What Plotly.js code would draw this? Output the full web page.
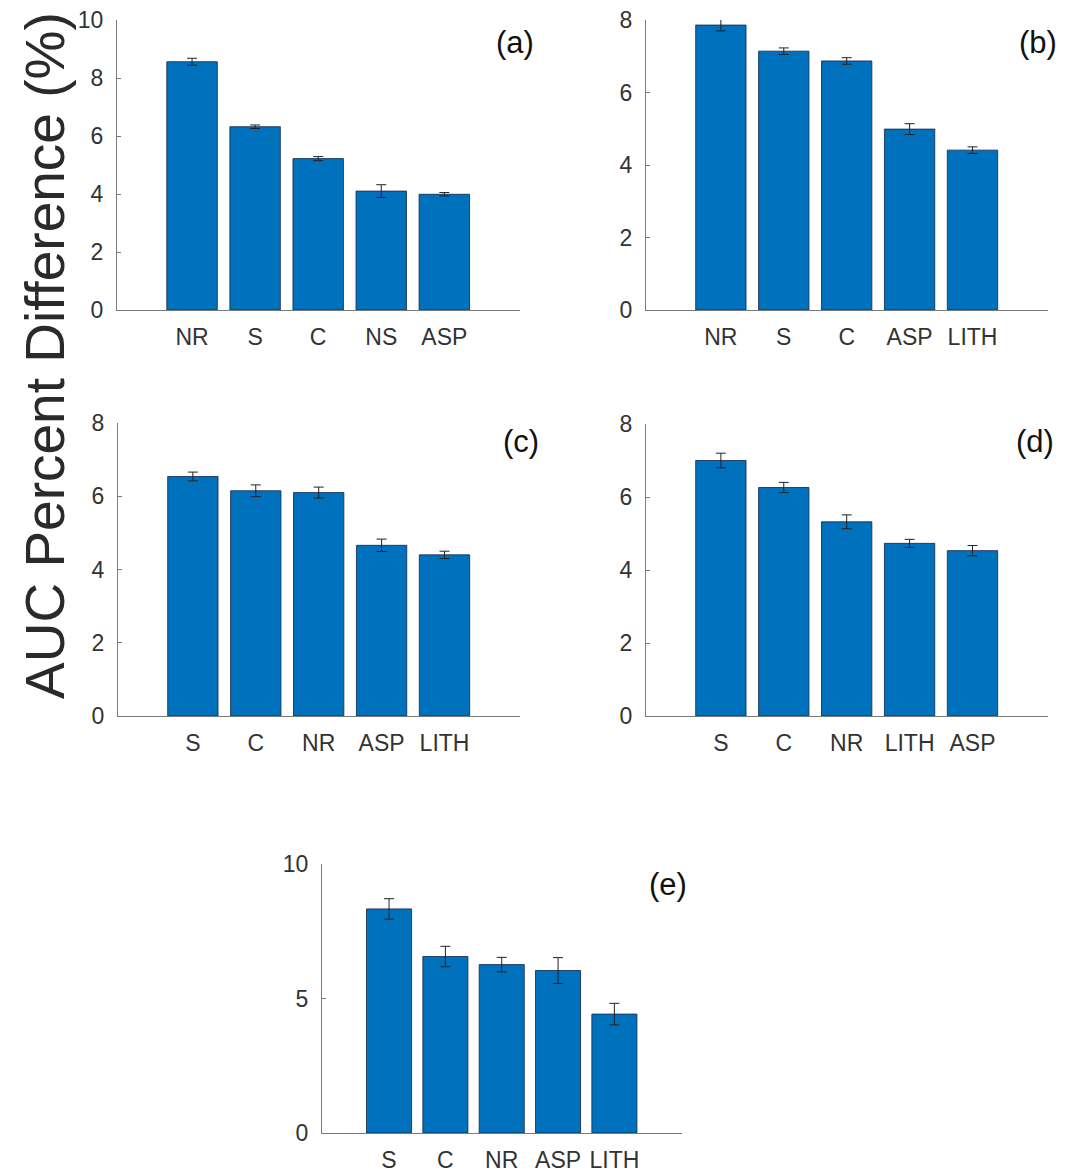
<!DOCTYPE html>
<html>
<head>
<meta charset="utf-8">
<script src="https://cdn.plot.ly/plotly-3.0.1.min.js"></script>
<style>html,body{margin:0;padding:0;background:#fff;}#chart{width:1067px;height:1174px;}</style>
</head>
<body>
<div id="chart"></div>
<script>
// ---- data ----
const catsA = ["NR", "S", "C", "NS", "ASP"];
const valsA = [8.56, 6.32, 5.22, 4.10, 3.99];
const errsA = [0.12, 0.06, 0.07, 0.22, 0.06];

const catsB = ["NR", "S", "C", "ASP", "LITH"];
const valsB = [7.86, 7.14, 6.87, 4.99, 4.41];
const errsB = [0.16, 0.09, 0.09, 0.15, 0.09];

const catsC = ["S", "C", "NR", "ASP", "LITH"];
const valsC = [6.54, 6.15, 6.10, 4.66, 4.40];
const errsC = [0.12, 0.16, 0.15, 0.17, 0.10];

const catsD = ["S", "C", "NR", "LITH", "ASP"];
const valsD = [7.00, 6.26, 5.32, 4.73, 4.53];
const errsD = [0.20, 0.14, 0.19, 0.11, 0.14];

const catsE = ["S", "C", "NR", "ASP", "LITH"];
const valsE = [8.33, 6.56, 6.26, 6.04, 4.42];
const errsE = [0.38, 0.38, 0.27, 0.48, 0.40];

const panelLabels = ["(a)", "(b)", "(c)", "(d)", "(e)"];
const yTicksA = [0, 2, 4, 6, 8, 10];
const yTicks8 = [0, 2, 4, 6, 8];
const yTicksE = [0, 5, 10];
const yTitle = "AUC Percent Difference (%)";

// ---- layout helpers ----
const W = 1067, H = 1174;
const FONT = "Liberation Sans, Arial, sans-serif";
const panels = [
  {cats: catsA, vals: valsA, errs: errsA, ymax: 10, ticks: yTicksA, px: [117, 520], py: [20, 310], lab: [515, 42]},
  {cats: catsB, vals: valsB, errs: errsB, ymax: 8, ticks: yTicks8, px: [646, 1048], py: [20, 310], lab: [1038, 42]},
  {cats: catsC, vals: valsC, errs: errsC, ymax: 8, ticks: yTicks8, px: [118, 520], py: [423, 716], lab: [521, 442]},
  {cats: catsD, vals: valsD, errs: errsD, ymax: 8, ticks: yTicks8, px: [646, 1048], py: [424, 716], lab: [1035, 442]},
  {cats: catsE, vals: valsE, errs: errsE, ymax: 10, ticks: yTicksE, px: [322, 682], py: [864, 1133], lab: [668, 884]}
];

const data = [];
const layout = {
  width: W, height: H,
  margin: {l: 0, r: 0, t: 0, b: 0},
  paper_bgcolor: "#ffffff",
  plot_bgcolor: "rgba(0,0,0,0)",
  showlegend: false,
  bargap: 0.2,
  font: {family: FONT, color: "#333333"},
  annotations: []
};

panels.forEach((p, i) => {
  const n = i === 0 ? "" : String(i + 1);
  data.push({
    type: "bar",
    x: p.cats,
    y: p.vals,
    xaxis: "x" + n,
    yaxis: "y" + n,
    width: 0.8,
    marker: {color: "#0072BD", line: {color: "rgba(20,45,80,0.85)", width: 1}},
    error_y: {type: "data", array: p.errs, visible: true, color: "#222222", thickness: 1, width: 5},
    hoverinfo: "x+y"
  });
  layout["xaxis" + n] = {
    domain: [p.px[0] / W, p.px[1] / W],
    anchor: "y" + n,
    type: "category",
    range: [-1.19, 5.2],
    showline: true, linecolor: "#7a7a7a", linewidth: 1,
    showgrid: false, zeroline: false,
    ticks: "", fixedrange: true,
    tickfont: {family: FONT, size: 23, color: "#333333"},
    ticklabelstandoff: 6
  };
  layout["yaxis" + n] = {
    domain: [1 - p.py[1] / H, 1 - p.py[0] / H],
    anchor: "x" + n,
    range: [0, p.ymax],
    tickvals: p.ticks,
    showline: true, linecolor: "#7a7a7a", linewidth: 1,
    showgrid: false, zeroline: false,
    ticks: "inside", ticklen: 4, tickcolor: "#7a7a7a",
    fixedrange: true,
    tickfont: {family: FONT, size: 23, color: "#333333"},
    ticklabelstandoff: 8
  };
  layout.annotations.push({
    text: panelLabels[i],
    xref: "paper", yref: "paper",
    x: p.lab[0] / W, y: 1 - p.lab[1] / H,
    xanchor: "center", yanchor: "middle",
    showarrow: false,
    font: {family: FONT, size: 31, color: "#111111"}
  });
});

layout.annotations.push({
  text: yTitle,
  xref: "paper", yref: "paper",
  x: 45 / W, y: 1 - 356 / H,
  xanchor: "center", yanchor: "middle",
  textangle: -90,
  showarrow: false,
  font: {family: FONT, size: 55, color: "#2a2a2a"}
});

Plotly.newPlot("chart", data, layout, {displayModeBar: false, staticPlot: true});
</script>
</body>
</html>
